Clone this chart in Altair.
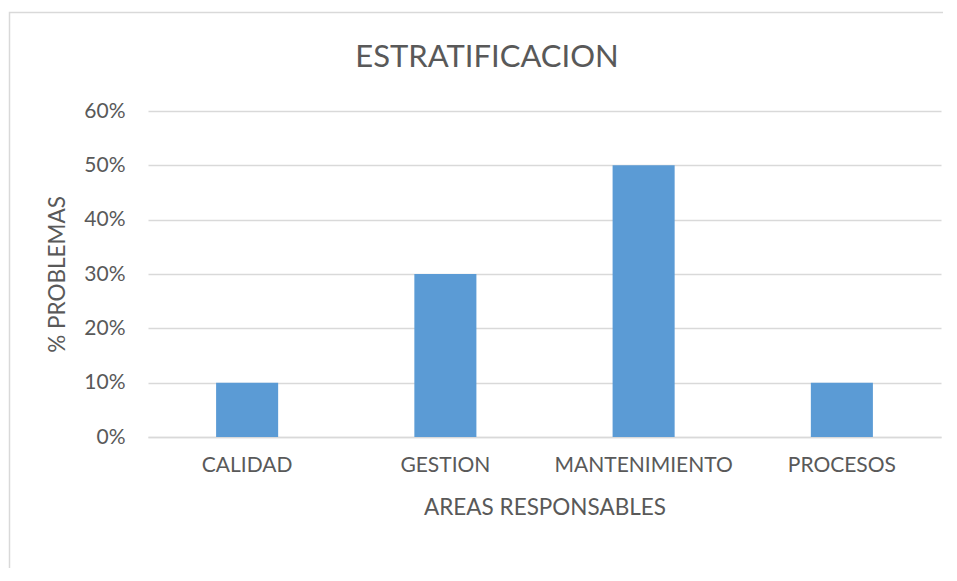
import altair as alt
import pandas as pd

categories = ["CALIDAD", "GESTION", "MANTENIMIENTO", "PROCESOS"]
values = [0.10, 0.30, 0.50, 0.10]
y_ticks = [0.0, 0.1, 0.2, 0.3, 0.4, 0.5, 0.6]
chart_title = ["ESTRATIFICACION"]

df = pd.DataFrame({"area": categories, "pct": values})

FONT = "Lato"
TXT = "#595959"
GRID = "#D9D9D9"

frame = alt.Chart(pd.DataFrame({"f": [0]})).mark_rect(
    fillOpacity=0, stroke=GRID, strokeWidth=1.5, clip=False
).encode(
    x=alt.value(-138.5), x2=alt.value(900), y=alt.value(-98.5), y2=alt.value(600)
)

title = alt.Chart(pd.DataFrame({"t": chart_title})).mark_text(
    font=FONT, fontSize=31, color=TXT, align="center", baseline="alphabetic"
).encode(text="t:N", x=alt.value(339), y=alt.value(-44))

bars = alt.Chart(df).mark_bar(color="#5B9BD5").encode(
    x=alt.X("area:N", sort=categories,
            scale=alt.Scale(paddingInner=0.687, paddingOuter=0.3435),
            axis=alt.Axis(title="AREAS RESPONSABLES", labelAngle=0, ticks=False,
                          domainColor=GRID, domainWidth=1.5, labelPadding=17,
                          titlePadding=21)),
    y=alt.Y("pct:Q", scale=alt.Scale(domain=[0, 0.6], nice=False),
            axis=alt.Axis(title="% PROBLEMAS", values=y_ticks, format=".0%",
                          ticks=False, domain=False, gridColor=GRID, gridWidth=1.5,
                          labelPadding=23, titlePadding=14)),
)

chart = alt.layer(frame, title, bars).properties(
    width=793, height=326,
    autosize=alt.AutoSizeParams(type="none"),
    padding={"left": 140, "top": 103, "right": 2, "bottom": 131},
).configure_view(stroke=None).configure_axis(
    labelFont=FONT, titleFont=FONT, labelFontSize=21, titleFontSize=22.5,
    labelColor=TXT, titleColor=TXT, titleFontWeight="normal",
)

chart.save("out.html", embed_options={"renderer": "svg", "actions": False})
